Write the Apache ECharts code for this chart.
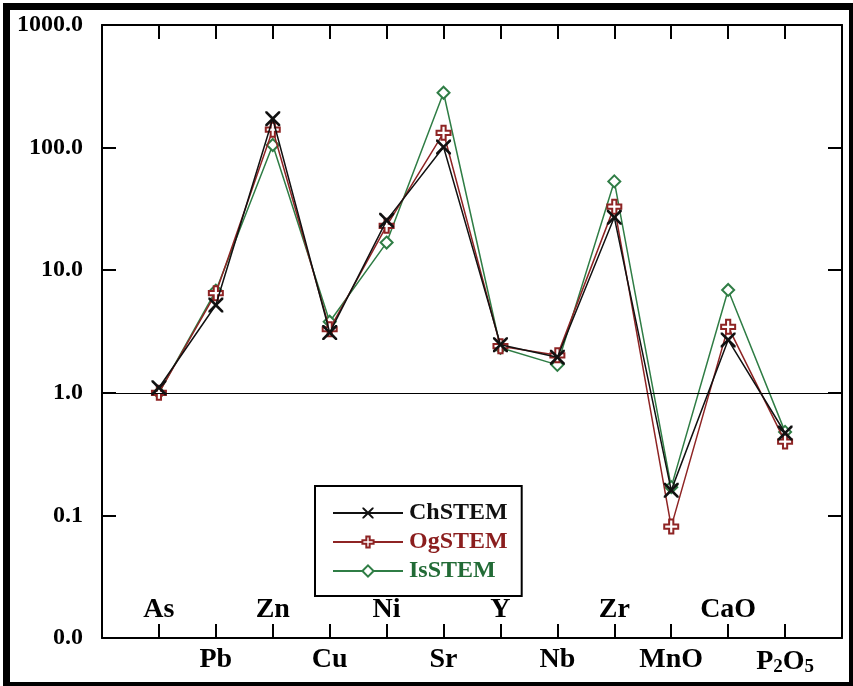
<!DOCTYPE html>
<html>
<head>
<meta charset="utf-8">
<script src="https://cdn.jsdelivr.net/npm/echarts@6/dist/echarts.min.js"></script>
<style>
html,body{margin:0;padding:0;background:#fff;}
#chart{width:853px;height:686px;}
</style>
</head>
<body>
<div id="chart"></div>
<script>
const categories = ['As','Pb','Zn','Cu','Ni','Sr','Y','Nb','Zr','MnO','CaO','P2O5'];
const seriesNames = ['ChSTEM','OgSTEM','IsSTEM'];
const chSTEM = [1.1, 5.2, 172, 3.1, 25.5, 101, 2.47, 1.95, 27, 0.16, 2.7, 0.47];
const ogSTEM = [1.0, 6.5, 140, 3.3, 23, 132, 2.4, 2.02, 33, 0.081, 3.45, 0.40];
const isSTEM = [1.0, 6.8, 105, 3.8, 16.8, 280, 2.33, 1.69, 53, 0.17, 6.9, 0.48];
const yTicks = [0.01, 0.1, 1, 10, 100, 1000];

const colors = ['#111111', '#8e2424', '#2f7d45'];
const textColors = ['#111111', '#8b1e1e', '#226b36'];
const FONT = '"Liberation Serif", "Times New Roman", serif';

const symX = 'path://M0,0 L2.5,0 L10,7.5 L17.5,0 L20,0 L20,2.5 L12.5,10 L20,17.5 L20,20 L17.5,20 L10,12.5 L2.5,20 L0,20 L0,17.5 L7.5,10 L0,2.5 Z';
const symPlus = 'path://M7,0 L13,0 L13,7 L20,7 L20,13 L13,13 L13,20 L7,20 L7,13 L0,13 L0,7 L7,7 Z';
const symDiamond = 'path://M10,0 L20,10 L10,20 L0,10 Z';

function toData(arr){ return arr.map((v,i)=>[i+1, v]); }

function catLabel(v, parity){
  const i = Math.round(v) - 1;
  if (i < 0 || i >= categories.length) return '';
  if (i % 2 !== parity) return '';
  const c = categories[i];
  if (c === 'P2O5') return '{a|P}{s|2}{a|O}{s|5}';
  return '{a|' + c + '}';
}
const richCat = {
  a: {fontFamily: FONT, fontWeight: 'bold', fontSize: 28, color: '#000'},
  s: {fontFamily: FONT, fontWeight: 'bold', fontSize: 19, color: '#000', padding: [12,0,0,0]}
};

const chart = echarts.init(document.getElementById('chart'));
const axisLineStyle = {color: '#000', width: 2};

chart.setOption({
  animation: false,
  backgroundColor: '#fff',
  grid: {left: 102, right: 11, top: 25, bottom: 48, containLabel: false},
  xAxis: [
    {type: 'value', min: 0, max: 13, interval: 1, position: 'bottom',
     axisLine: {show: true, onZero: false, lineStyle: axisLineStyle},
     axisTick: {show: true, inside: true, length: 14, lineStyle: {color: '#000', width: 2}},
     splitLine: {show: false},
     axisLabel: {show: true, margin: 8, formatter: v => catLabel(v, 1), rich: richCat, showMinLabel: true, showMaxLabel: true}},
    {type: 'value', min: 0, max: 13, interval: 1, position: 'bottom',
     axisLine: {show: false, onZero: false}, axisTick: {show: false}, splitLine: {show: false},
     axisLabel: {show: true, inside: true, margin: 14, formatter: v => catLabel(v, 0), rich: richCat}},
    {type: 'value', min: 0, max: 13, interval: 1, position: 'top',
     axisLine: {show: true, onZero: false, lineStyle: axisLineStyle},
     axisTick: {show: true, inside: true, length: 14, lineStyle: {color: '#000', width: 2}},
     splitLine: {show: false}, axisLabel: {show: false}}
  ],
  yAxis: [
    {type: 'log', logBase: 10, min: 0.01, max: 1000, position: 'left',
     axisLine: {show: true, onZero: false, lineStyle: axisLineStyle},
     axisTick: {show: true, inside: true, length: 14, lineStyle: {color: '#000', width: 2}},
     splitLine: {show: false}, minorTick: {show: false},
     axisLabel: {margin: 19, fontFamily: FONT, fontWeight: 'bold', fontSize: 24, color: '#000',
       formatter: v => Number(v).toFixed(1)}},
    {type: 'log', logBase: 10, min: 0.01, max: 1000, position: 'right',
     axisLine: {show: true, onZero: false, lineStyle: axisLineStyle},
     axisTick: {show: true, inside: true, length: 14, lineStyle: {color: '#000', width: 2}},
     splitLine: {show: false}, axisLabel: {show: false}}
  ],
  legend: {
    orient: 'vertical', left: 315, top: 486,
    padding: [15, 14, 13, 17], itemGap: 5, itemWidth: 70, itemHeight: 14,
    borderColor: '#000', borderWidth: 2, backgroundColor: '#fff',
    textStyle: {fontFamily: FONT, fontWeight: 'bold', fontSize: 24, padding: [0,0,0,1]},
    data: seriesNames.map((n,i)=>({name: n, textStyle: {color: textColors[i]}}))
  },
  graphic: [
    {type: 'rect', shape: {x: 3, y: 3, width: 850, height: 7}, style: {fill: '#000'}, silent: true},
    {type: 'rect', shape: {x: 3, y: 3, width: 7, height: 683}, style: {fill: '#000'}, silent: true},
    {type: 'rect', shape: {x: 849, y: 3, width: 4, height: 683}, style: {fill: '#000'}, silent: true},
    {type: 'rect', shape: {x: 3, y: 682, width: 850, height: 4}, style: {fill: '#000'}, silent: true}
  ],
  series: [
    {name: seriesNames[0], type: 'line', data: toData(chSTEM), z: 5,
     symbol: symX, symbolSize: 15, symbolKeepAspect: true,
     lineStyle: {color: colors[0], width: 1.5}, itemStyle: {color: colors[0], borderWidth: 0},
     markLine: {silent: true, symbol: 'none', label: {show: false},
       lineStyle: {color: '#000', width: 1.2, type: 'solid'}, data: [{yAxis: 1}]}},
    {name: seriesNames[1], type: 'line', data: toData(ogSTEM), z: 4,
     symbol: symPlus, symbolSize: 14, symbolKeepAspect: true,
     lineStyle: {color: colors[1], width: 1.5}, itemStyle: {color: '#fff', borderColor: colors[1], borderWidth: 2}},
    {name: seriesNames[2], type: 'line', data: toData(isSTEM), z: 3,
     symbol: symDiamond, symbolSize: 12, symbolKeepAspect: true,
     lineStyle: {color: colors[2], width: 1.5}, itemStyle: {color: '#fff', borderColor: colors[2], borderWidth: 2}}
  ]
});
</script>
</body>
</html>
